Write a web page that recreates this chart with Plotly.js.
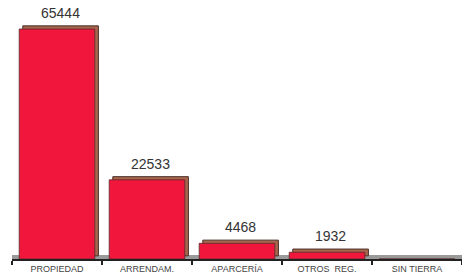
<!DOCTYPE html>
<html><head><meta charset="utf-8">
<script src="https://cdn.plot.ly/plotly-3.0.1.min.js"></script>
<style>html,body{margin:0;padding:0;background:#fff}#c{width:462px;height:275px}</style>
</head><body><div id="c"></div>
<script>
var categories = ['PROPIEDAD', 'ARRENDAM.', 'APARCERÍA', 'OTROS  REG.', 'SIN TIERRA'];
var values = [65444, 22533, 4468, 1932, 0];
var valueLabels = ['65444', '22533', '4468', '1932', ''];

var yMax = 72000;
var depth = 900; // extrusion depth in data units (visual 3D effect)

var back = {
  type: 'bar', x: categories, y: values.map(function (v) { return v || null; }), yaxis: 'y',
  width: 0.84, offset: -0.38,
  marker: {color: '#a8654e', line: {color: '#4a3028', width: 1}},
  hoverinfo: 'skip', showlegend: false
};
var front = {
  type: 'bar', x: categories, y: values, yaxis: 'y2',
  width: 0.84, offset: -0.42,
  marker: {color: '#f0163c', line: {color: '#5a2a28', width: 0.8}},
  showlegend: false
};

var annotations = categories.map(function (c, i) {
  return {
    x: c, y: values[i], xref: 'x', yref: 'y2', text: valueLabels[i],
    showarrow: false, yanchor: 'bottom', xanchor: 'center', yshift: 6, xshift: 3,
    font: {family: 'Liberation Sans, Arial, sans-serif', size: 14, color: '#333'}
  };
});

var layout = {
  width: 462, height: 275,
  margin: {l: 12, r: 0, t: 6, b: 16},
  paper_bgcolor: '#fff', plot_bgcolor: '#fff',
  barmode: 'overlay',
  xaxis: {
    type: 'category', showline: true, linecolor: '#222', linewidth: 2,
    ticks: 'outside', tickson: 'boundaries', ticklen: 4, tickwidth: 2, tickcolor: '#222',
    tickfont: {family: 'Liberation Sans, Arial, sans-serif', size: 9, color: '#444'},
    showgrid: false, zeroline: false, fixedrange: true
  },
  yaxis: {range: [-depth, yMax - depth], visible: false, showgrid: false, zeroline: false},
  yaxis2: {range: [0, yMax], overlaying: 'y', visible: false, showgrid: false, zeroline: false},
  annotations: annotations,
  shapes: [{
    type: 'rect', xref: 'paper', yref: 'paper', ysizemode: 'pixel', yanchor: 0,
    x0: 0, x1: 1, y0: 0, y1: 4, fillcolor: '#9a9a9a', line: {width: 0}, layer: 'below'
  }]
};
Plotly.newPlot('c', [back, front], layout, {staticPlot: true, displayModeBar: false});
</script></body></html>
